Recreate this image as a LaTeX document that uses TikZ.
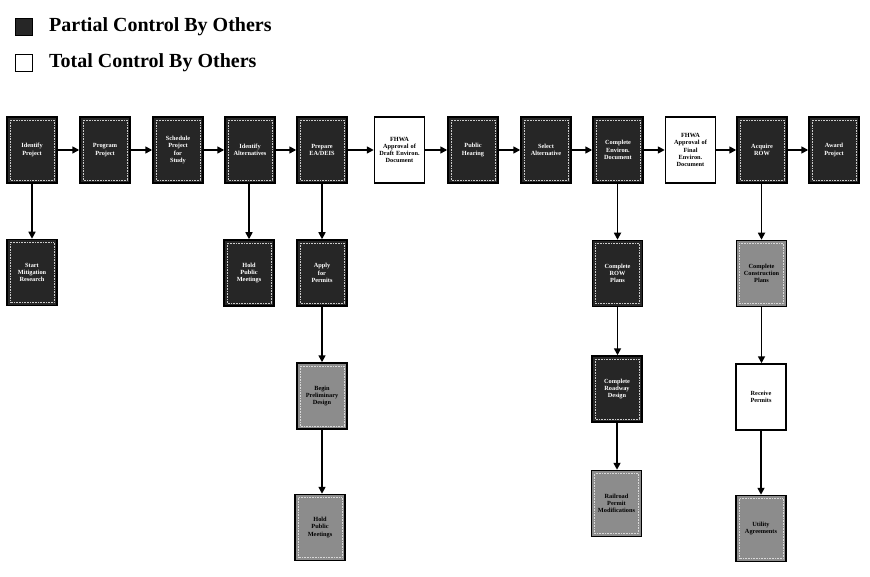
\documentclass[tikz,border=0pt]{standalone}
\usepackage{fontspec}
\setmainfont{Liberation Serif}
\usetikzlibrary{arrows.meta}
\definecolor{darkbox}{HTML}{262626}
\definecolor{midbox}{HTML}{8C8C8C}
\tikzset{
  x=1pt, y=-1pt,
  basebox/.style={draw=black, line width=1.5pt, minimum width=50pt, minimum height=66pt,
     text width=45pt, align=center, inner sep=0pt,
     font=\fontsize{6.3}{7.3}\selectfont\bfseries},
  innerframe/.style={path picture={\draw[#1, line width=0.6pt, densely dotted]
     ([shift={(3pt,-3pt)}]path picture bounding box.north west) rectangle
     ([shift={(-3pt,3pt)}]path picture bounding box.south east);}},
  darkstep/.style={basebox, fill=darkbox, text=white, innerframe=white!80!black},
  midstep/.style={basebox, fill=midbox, text=black, innerframe=white!85!black},
  whitestep/.style={basebox, fill=white, text=black},
  flow/.style={line width=1.6pt, -{Triangle[length=7pt,width=7pt]}},
  legendtext/.style={font=\fontsize{20}{22}\selectfont\bfseries, anchor=west, inner sep=0pt}
}
\begin{document}
\begin{tikzpicture}
\useasboundingbox (0,0) rectangle (870,577);
% legend
\node[draw=black, line width=1pt, fill=darkbox, minimum width=17pt, minimum height=17pt, inner sep=0pt] (lgp) at (24,27.5) {};
\node[legendtext] (lgpt) at (49,26.5) {Partial Control By Others};
\node[draw=black, line width=1pt, fill=white, minimum width=17pt, minimum height=17pt, inner sep=0pt] (lgt) at (24,63.5) {};
\node[legendtext] (lgtt) at (49,63) {Total Control By Others};
% top row
\node[darkstep] (t1) at (32,150) {Identify\\Project};
\node[darkstep] (t2) at (105,150) {Program\\Project};
\node[darkstep] (t3) at (178,150) {Schedule\\Project\\for\\Study};
\node[darkstep] (t4) at (250,150) {Identify\\Alternatives};
\node[darkstep] (t5) at (322,150) {Prepare\\EA/DEIS};
\node[whitestep] (t6) at (399.5,150) {FHWA\\Approval of\\Draft Environ.\\Document};
\node[darkstep] (t7) at (473,150) {Public\\Hearing};
\node[darkstep] (t8) at (546,150) {Select\\Alternative};
\node[darkstep] (t9) at (618,150) {Complete\\Environ.\\Document};
\node[whitestep] (t10) at (690.5,150) {FHWA\\Approval of\\Final\\Environ.\\Document};
\node[darkstep] (t11) at (762,150) {Acquire\\ROW};
\node[darkstep] (t12) at (834,150) {Award\\Project};
\foreach \a/\b in {t1/t2,t2/t3,t3/t4,t4/t5,t5/t6,t6/t7,t7/t8,t8/t9,t9/t10,t10/t11,t11/t12}
  \draw[flow] (\a) -- (\b);
% lower boxes
\node[darkstep] (l1) at (32,272.5) {Start\\Mitigation\\Research};
\node[darkstep] (l4) at (249,273) {Hold\\Public\\Meetings};
\node[darkstep] (l5a) at (322,273) {Apply\\for\\Permits};
\node[midstep] (l5b) at (322,396) {Begin\\Preliminary\\Design};
\node[midstep] (l5c) at (320,527.5) {Hold\\Public\\Meetings};
\node[darkstep] (l9a) at (617.5,273.5) {Complete\\ROW\\Plans};
\node[darkstep] (l9b) at (617,389) {Complete\\Roadway\\Design};
\node[midstep] (l9c) at (616.5,503.5) {Railroad\\Permit\\Modifications};
\node[midstep] (l11a) at (761.5,273.5) {Complete\\Construction\\Plans};
\node[whitestep] (l11b) at (761,397) {Receive\\Permits};
\node[midstep] (l11c) at (761,528.5) {Utility\\Agreements};
\draw[flow] (t1.south -| l1.north) -- (l1.north);
\draw[flow] (t4.south -| l4.north) -- (l4.north);
\draw[flow] (t5.south -| l5a.north) -- (l5a.north);
\draw[flow] (l5a.south) -- (l5a.south |- l5b.north);
\draw[flow] (l5b.south) -- (l5b.south |- l5c.north);
\draw[flow] (t9.south -| l9a.north) -- (l9a.north);
\draw[flow] (l9a.south) -- (l9a.south |- l9b.north);
\draw[flow] (l9b.south) -- (l9b.south |- l9c.north);
\draw[flow] (t11.south -| l11a.north) -- (l11a.north);
\draw[flow] (l11a.south) -- (l11a.south |- l11b.north);
\draw[flow] (l11b.south) -- (l11b.south |- l11c.north);
\end{tikzpicture}
\end{document}
